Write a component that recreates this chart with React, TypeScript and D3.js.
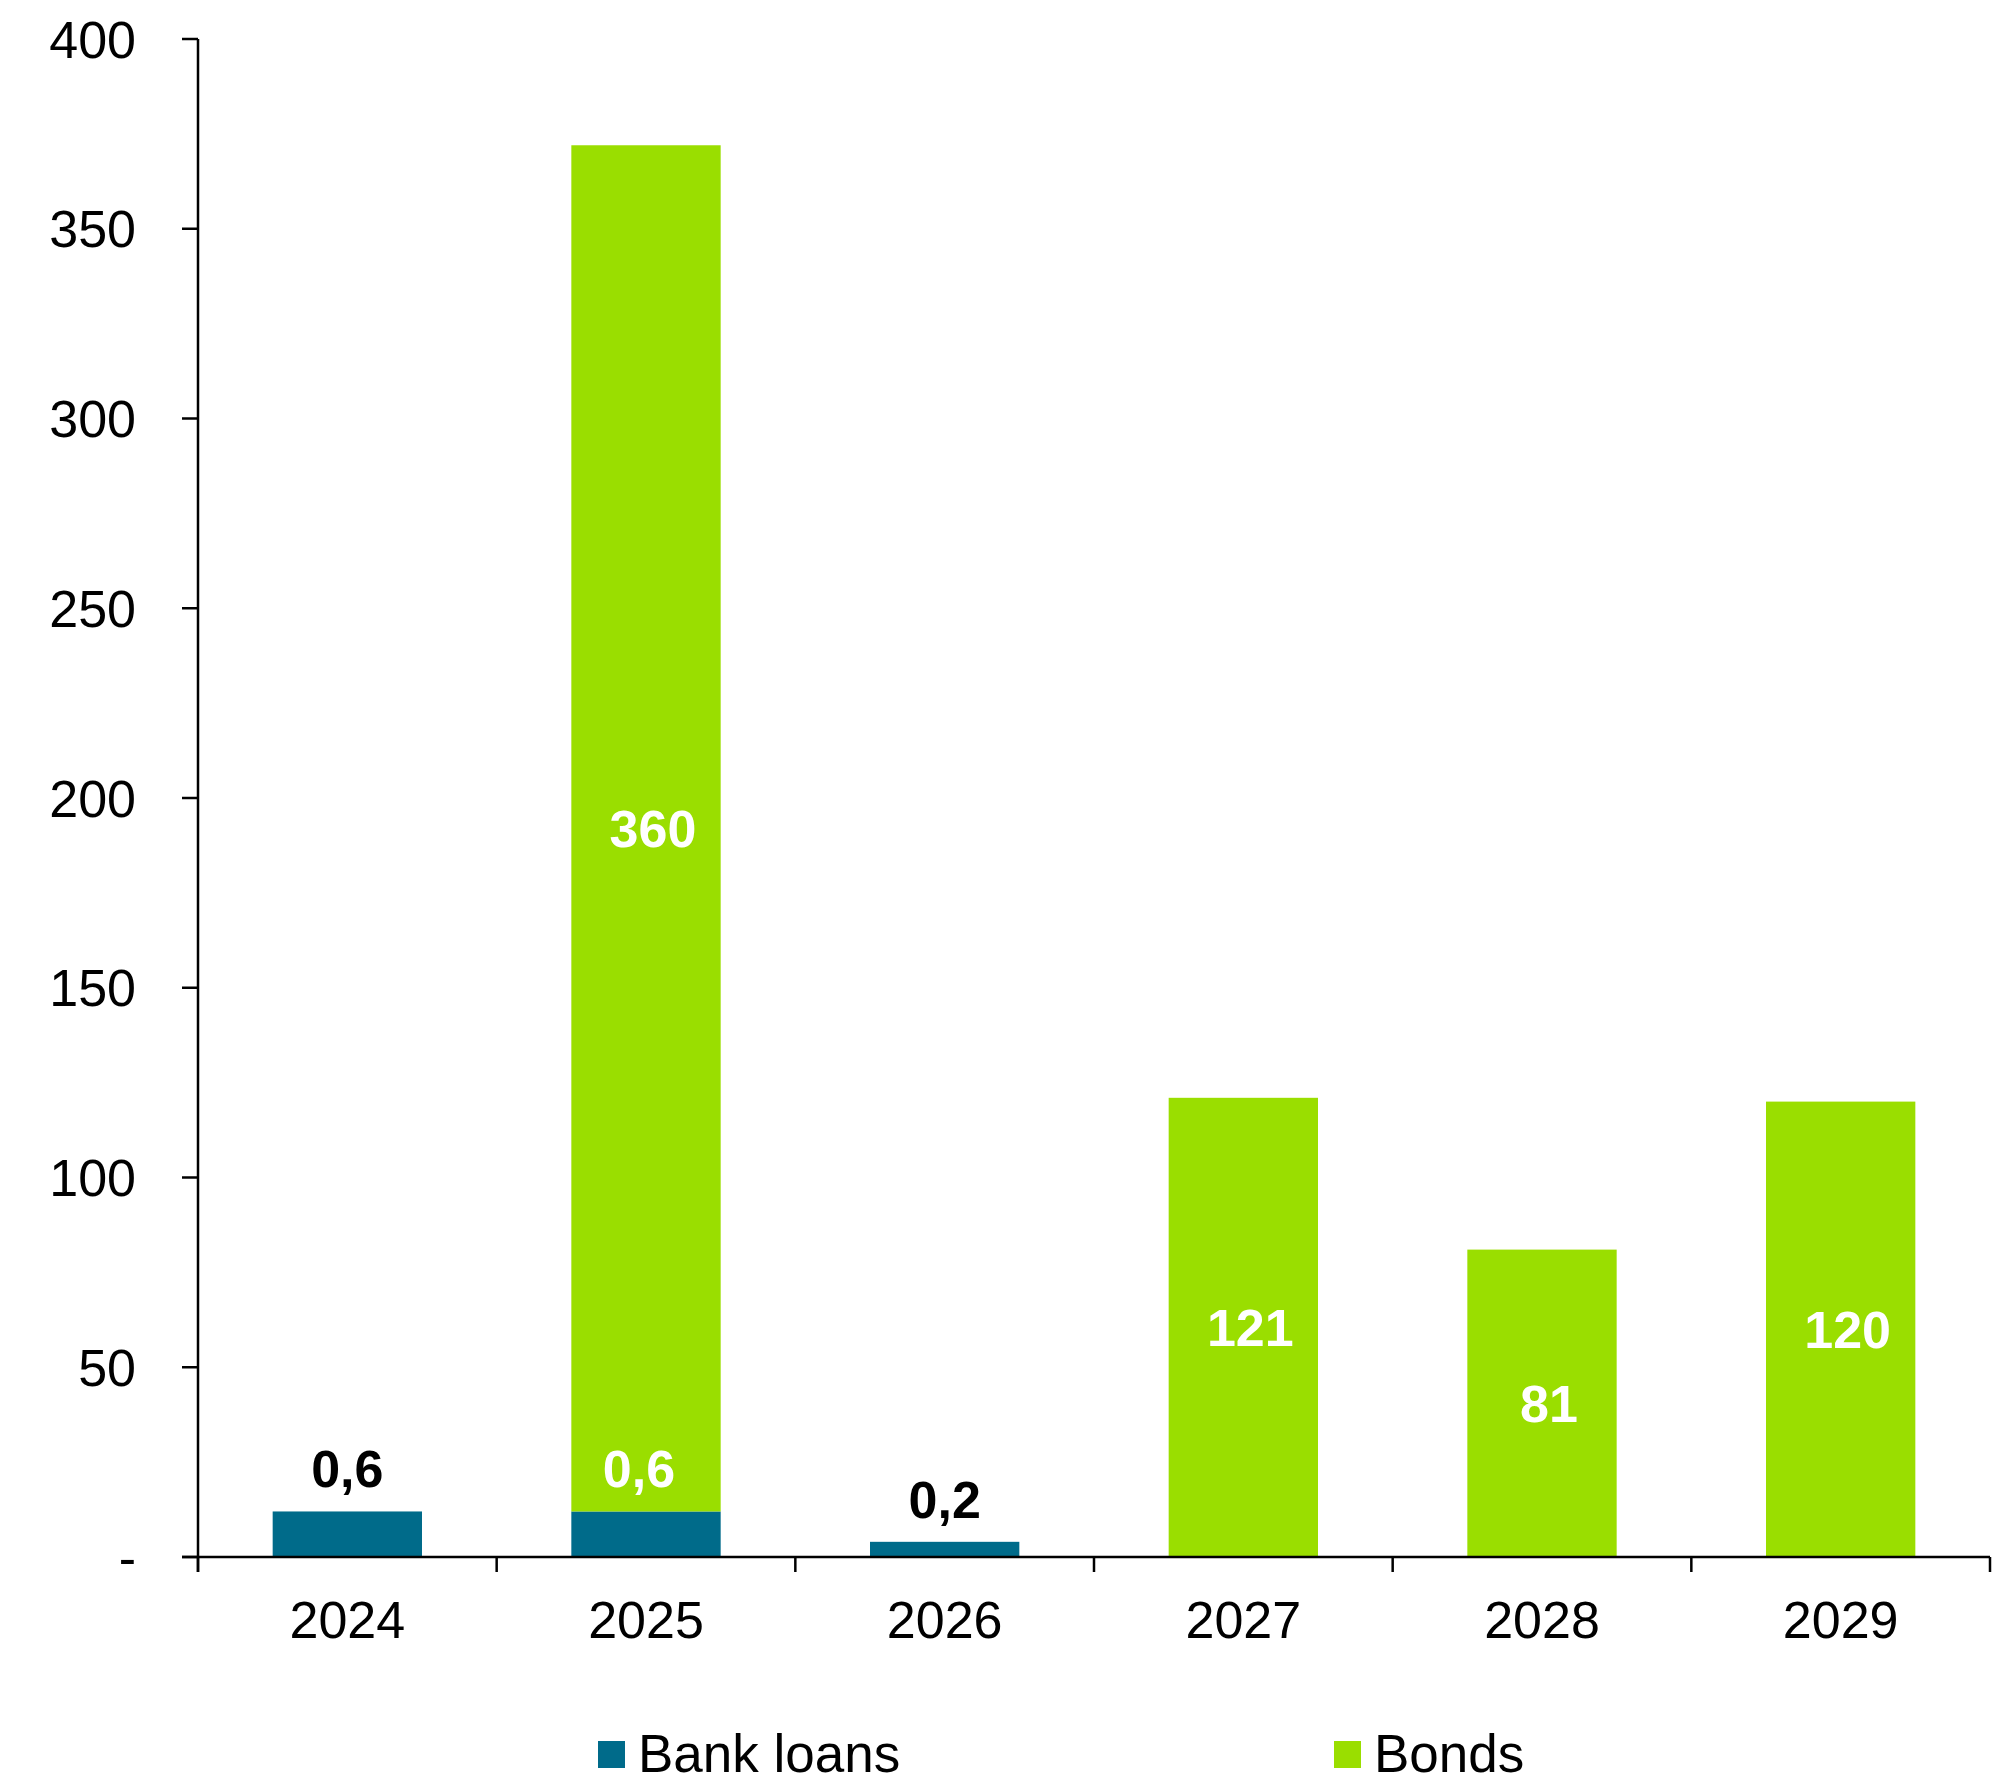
import React from "react";
import * as d3 from "d3";

const years = ["2024", "2025", "2026", "2027", "2028", "2029"];
// bar heights as drawn on the axis
const bankLoansBar = [12, 12, 4, 0, 0, 0];
const bondsBar = [0, 360, 0, 121, 81, 120];
// data labels as printed
const bankLoansLabels = ["0,6", "0,6", "0,2", "", "", ""];
const bondsLabels = ["", "360", "", "121", "81", "120"];
const yTicks = [0, 50, 100, 150, 200, 250, 300, 350, 400];
const yTickLabels = ["-", "50", "100", "150", "200", "250", "300", "350", "400"];
const seriesNames = ["Bank loans", "Bonds"];

const W = 2012;
const H = 1785;
const TEAL = "#006B8A";
const GREEN = "#9ADE00";
const FONT = "'Liberation Sans', Arial, sans-serif";

export default function App() {
  const x = d3.scaleBand<string>().domain(years).range([198, 1990]).paddingInner(0.5).paddingOuter(0.25);
  const y = d3.scaleLinear().domain([0, 400]).range([1557, 39]);
  const step = x.step();
  const bw = x.bandwidth();
  const boundaries = d3.range(years.length + 1).map((i) => 198 + i * step);

  return (
    <div style={{ position: "absolute", left: 0, top: 0 }}>
      <svg width={W} height={H} style={{ display: "block", background: "#fff" }} fontFamily={FONT}>
        {/* bars */}
        {years.map((yr, i) => {
          const x0 = x(yr)!;
          const b = bankLoansBar[i];
          const g = bondsBar[i];
          return (
            <g key={yr}>
              {b > 0 && <rect x={x0} y={y(b)} width={bw} height={y(0) - y(b)} fill={TEAL} />}
              {g > 0 && <rect x={x0} y={y(b + g)} width={bw} height={y(b) - y(b + g)} fill={GREEN} />}
            </g>
          );
        })}
        {/* axes */}
        <line x1={198} x2={198} y1={39} y2={1572} stroke="#000" strokeWidth={2.5} />
        <line x1={182} x2={1990} y1={y(0)} y2={y(0)} stroke="#000" strokeWidth={2.5} />
        {yTicks.map((t, i) => (
          <g key={t}>
            <line x1={182} x2={198} y1={y(t)} y2={y(t)} stroke="#000" strokeWidth={2.5} />
            <text x={136} y={y(t)} dy="0.36em" textAnchor="end" fontSize={52} fill="#000">
              {yTickLabels[i]}
            </text>
          </g>
        ))}
        {boundaries.map((bx, i) => (
          <line key={i} x1={bx} x2={bx} y1={y(0)} y2={1572} stroke="#000" strokeWidth={2.5} />
        ))}
        {years.map((yr) => (
          <text key={yr} x={x(yr)! + bw / 2} y={1638} textAnchor="middle" fontSize={52} fill="#000">
            {yr}
          </text>
        ))}
        {/* data labels */}
        {years.map((yr, i) => {
          const cx = x(yr)! + bw / 2;
          const b = bankLoansBar[i];
          const g = bondsBar[i];
          const out: React.ReactNode[] = [];
          if (bankLoansLabels[i]) {
            const onGreen = g > 0;
            out.push(
              <text key="b" x={cx + (onGreen ? -7 : 0)} y={y(b) - 24} textAnchor="middle" fontSize={52} fontWeight="bold" fill={onGreen ? "#fff" : "#000"}>
                {bankLoansLabels[i]}
              </text>
            );
          }
          if (bondsLabels[i]) {
            const mid = (y(b) + y(b + g)) / 2;
            out.push(
              <text key="g" x={cx + 7} y={mid} dy="0.36em" textAnchor="middle" fontSize={52} fontWeight="bold" fill="#fff">
                {bondsLabels[i]}
              </text>
            );
          }
          return <g key={yr}>{out}</g>;
        })}
        {/* legend */}
        {seriesNames.map((name, i) => {
          const lx = i === 0 ? 598 : 1334;
          return (
            <g key={name}>
              <rect x={lx} y={1741} width={27} height={27} fill={i === 0 ? TEAL : GREEN} />
              <text x={lx + 40} y={1772} fontSize={53} fill="#000">
                {name}
              </text>
            </g>
          );
        })}
      </svg>
    </div>
  );
}
